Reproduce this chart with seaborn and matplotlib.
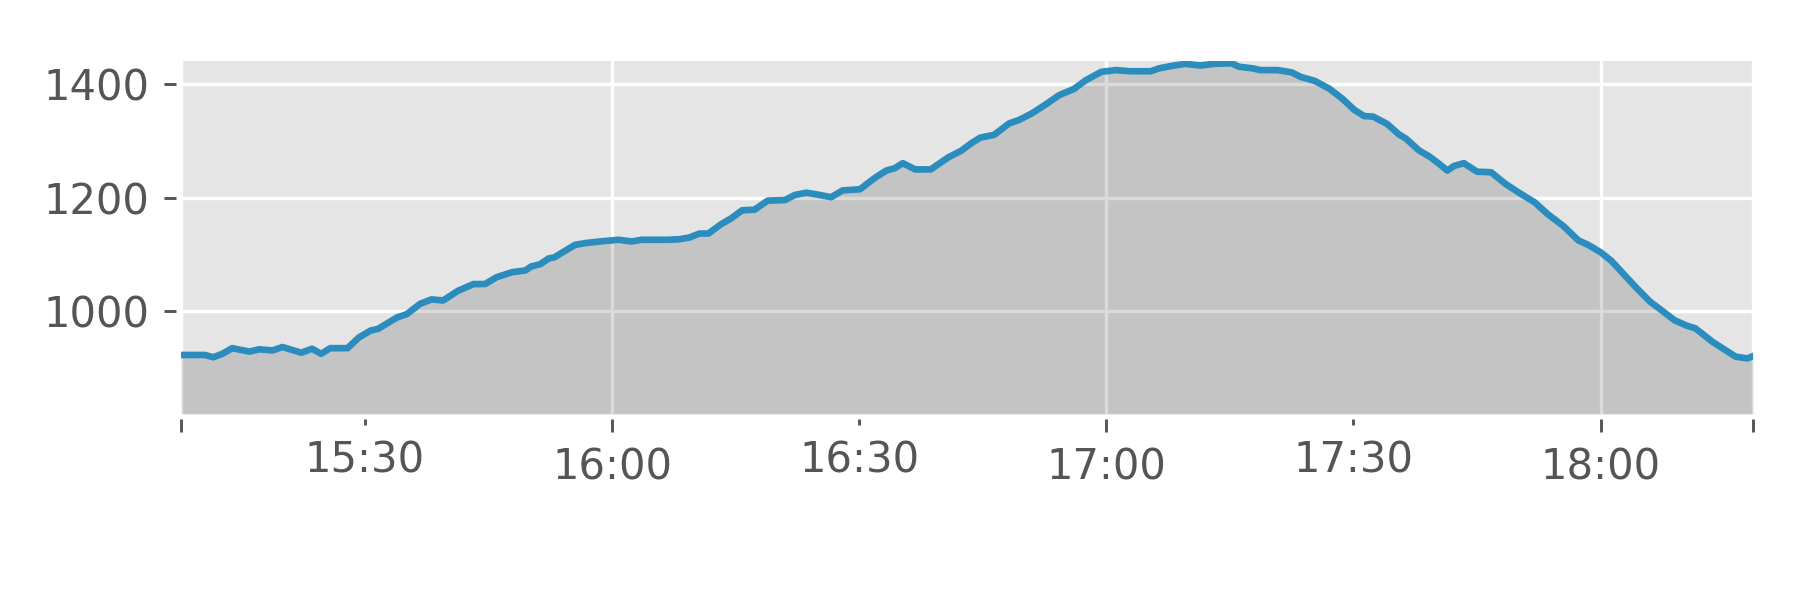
import matplotlib
matplotlib.use("Agg")
import matplotlib.pyplot as plt
import matplotlib.dates as mdates
import pandas as pd
import seaborn as sns

times = [
    "15:07:42", "15:10:36", "15:11:36", "15:12:42", "15:13:54", "15:16:00", "15:17:12", "15:18:48",
    "15:20:00", "15:22:18", "15:23:36", "15:24:42", "15:25:48", "15:27:54", "15:29:18", "15:30:42",
    "15:31:36", "15:33:54", "15:35:06", "15:36:42", "15:38:06", "15:39:30", "15:41:18", "15:43:12",
    "15:44:36", "15:46:00", "15:47:54", "15:49:30", "15:50:12", "15:51:18", "15:52:18", "15:53:00",
    "15:55:30", "15:56:42", "15:58:30", "16:00:48", "16:02:24", "16:03:36", "16:06:48", "16:08:12",
    "16:09:24", "16:10:36", "16:11:42", "16:13:18", "16:14:30", "16:15:48", "16:17:18", "16:18:54",
    "16:21:00", "16:22:12", "16:23:36", "16:25:12", "16:26:36", "16:28:00", "16:30:06", "16:32:00",
    "16:33:18", "16:34:18", "16:35:18", "16:36:48", "16:38:42", "16:40:48", "16:42:24", "16:43:36",
    "16:44:42", "16:46:24", "16:48:12", "16:49:24", "16:51:00", "16:52:42", "16:54:18", "16:56:06",
    "16:57:30", "16:59:24", "17:01:12", "17:02:54", "17:05:24", "17:06:24", "17:07:48", "17:09:36",
    "17:11:24", "17:13:06", "17:15:12", "17:16:06", "17:17:48", "17:18:42", "17:20:48", "17:22:30",
    "17:23:36", "17:25:18", "17:27:06", "17:28:42", "17:30:06", "17:31:18", "17:32:24", "17:34:06",
    "17:35:30", "17:36:24", "17:38:00", "17:39:12", "17:40:18", "17:41:24", "17:42:12", "17:43:24",
    "17:45:00", "17:46:42", "17:48:30", "17:50:12", "17:52:00", "17:53:36", "17:55:30", "17:57:18",
    "17:58:30", "18:00:00", "18:01:18", "18:02:42", "18:04:18", "18:06:00", "18:07:06", "18:09:00",
    "18:10:24", "18:11:30", "18:13:36", "18:15:00", "18:16:24", "18:17:48", "18:18:30",
]
values = [
    923, 923, 919, 925, 935, 929, 933, 931,
    937, 927, 934, 925, 935, 935, 954, 966,
    969, 989, 995, 1013, 1021, 1019, 1036, 1048,
    1048, 1060, 1069, 1072, 1079, 1083, 1093, 1095,
    1117, 1120, 1123, 1126, 1123, 1126, 1126, 1127,
    1130, 1137, 1137, 1154, 1164, 1178, 1179, 1195,
    1196, 1205, 1209, 1205, 1201, 1213, 1215, 1236,
    1248, 1252, 1261, 1250, 1250, 1271, 1283, 1296,
    1306, 1311, 1331, 1337, 1349, 1365, 1381, 1392,
    1407, 1422, 1425, 1423, 1423, 1428, 1432, 1436,
    1433, 1436, 1437, 1431, 1428, 1425, 1425, 1421,
    1413, 1406, 1392, 1374, 1355, 1344, 1343, 1330,
    1312, 1304, 1283, 1273, 1261, 1248, 1256, 1261,
    1246, 1245, 1224, 1208, 1192, 1171, 1150, 1125,
    1117, 1104, 1089, 1067, 1042, 1017, 1005, 984,
    975, 970, 946, 933, 920, 917, 921,
]
major_labels = ["16:00", "17:00", "18:00"]
minor_labels = ["15:30", "16:30", "17:30"]
yticks = [1000, 1200, 1400]

day = "2020-01-01 "
df = pd.DataFrame({"time": pd.to_datetime([day + t for t in times]), "value": values})

plt.style.use("ggplot")
fig = plt.figure(figsize=(6, 2), dpi=300)
ax = fig.add_axes([0.1006, 0.31, 0.8733, 0.5883])

ymin, ymax = 819, 1441
ax.fill_between(df["time"], df["value"], ymin, color="black", alpha=0.14, linewidth=0, zorder=2)
sns.lineplot(data=df, x="time", y="value", ax=ax, color="#2b8cbe", linewidth=1.6, zorder=3)

ax.set_xlim(df["time"].iloc[0], df["time"].iloc[-1])
ax.set_ylim(ymin, ymax)
ax.set_xlabel("")
ax.set_ylabel("")

xmaj = [df["time"].iloc[0]] + [pd.Timestamp(day + l) for l in major_labels] + [df["time"].iloc[-1]]
ax.set_xticks(mdates.date2num(xmaj))
ax.set_xticklabels([""] + major_labels + [""])
ax.set_xticks(mdates.date2num([pd.Timestamp(day + l) for l in minor_labels]), minor=True)
ax.set_xticklabels(minor_labels, minor=True)
ax.set_yticks(yticks)
ax.set_yticklabels([str(v) for v in yticks])

ax.grid(True, which="major", color="white", linewidth=0.8)
ax.grid(False, which="minor")
ax.set_facecolor("#E5E5E5")
for s in ax.spines.values():
    s.set_visible(False)
ax.spines["left"].set_position(("outward", 1.2))
ax.spines["bottom"].set_position(("outward", 1.2))

ax.tick_params(axis="both", which="major", labelsize=10, colors="#555555",
               length=3.0, width=0.7, direction="out", pad=3.5)
ax.tick_params(axis="x", which="minor", labelsize=10, colors="#555555",
               length=1.4, width=0.7, direction="out", pad=3.5)

fig.savefig("out.png", dpi=300)
